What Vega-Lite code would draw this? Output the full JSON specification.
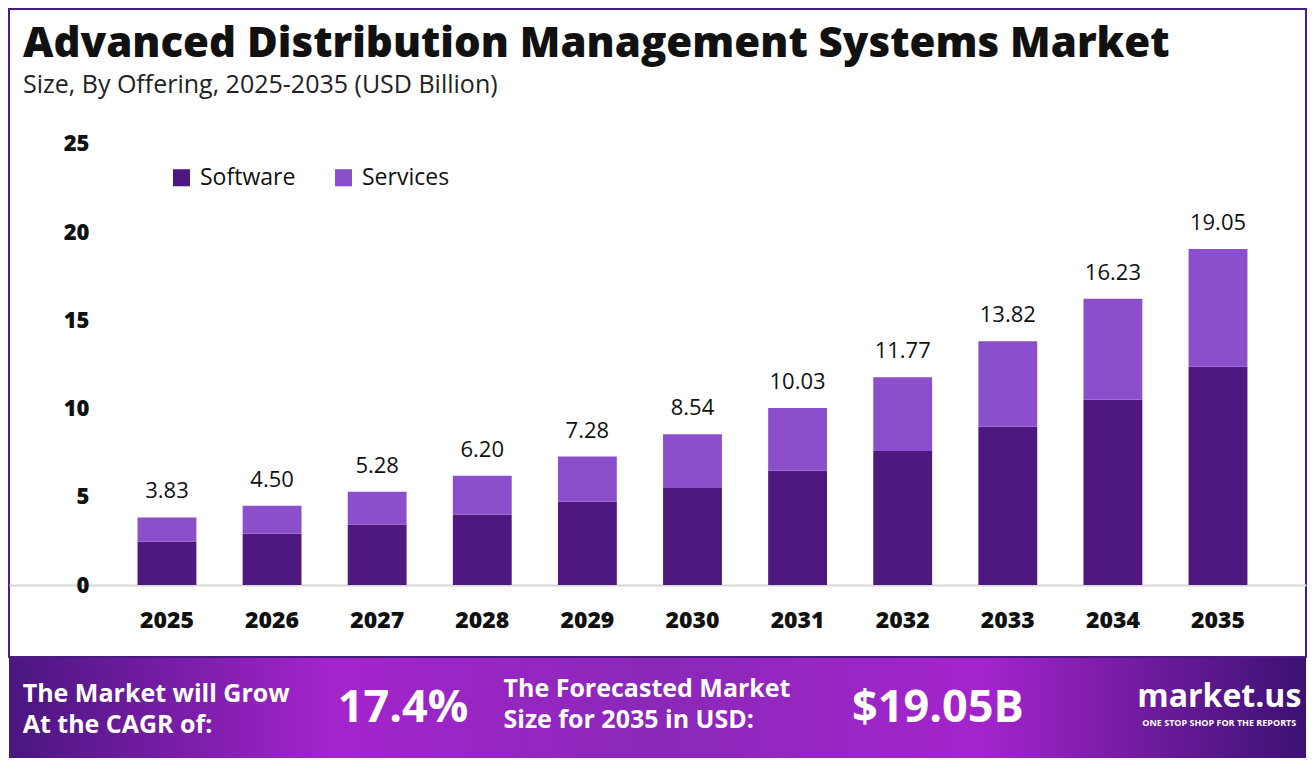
{
  "$schema": "https://vega.github.io/schema/vega-lite/v6.json",
  "background": "white",
  "padding": {"left": 8, "top": 8, "right": 7, "bottom": 12},
  "autosize": {"type": "pad"},
  "spacing": 0,
  "config": {
    "view": {"stroke": "#4B1C82", "strokeWidth": 2},
    "lineBreak": "\n"
  },
  "datasets": {
    "market": [
      {"year": "2025", "offering": "Software", "value": 2.45},
      {"year": "2025", "offering": "Services", "value": 1.38},
      {"year": "2026", "offering": "Software", "value": 2.90},
      {"year": "2026", "offering": "Services", "value": 1.60},
      {"year": "2027", "offering": "Software", "value": 3.41},
      {"year": "2027", "offering": "Services", "value": 1.87},
      {"year": "2028", "offering": "Software", "value": 3.99},
      {"year": "2028", "offering": "Services", "value": 2.21},
      {"year": "2029", "offering": "Software", "value": 4.72},
      {"year": "2029", "offering": "Services", "value": 2.56},
      {"year": "2030", "offering": "Software", "value": 5.50},
      {"year": "2030", "offering": "Services", "value": 3.04},
      {"year": "2031", "offering": "Software", "value": 6.47},
      {"year": "2031", "offering": "Services", "value": 3.56},
      {"year": "2032", "offering": "Software", "value": 7.60},
      {"year": "2032", "offering": "Services", "value": 4.17},
      {"year": "2033", "offering": "Software", "value": 8.97},
      {"year": "2033", "offering": "Services", "value": 4.85},
      {"year": "2034", "offering": "Software", "value": 10.50},
      {"year": "2034", "offering": "Services", "value": 5.73},
      {"year": "2035", "offering": "Software", "value": 12.37},
      {"year": "2035", "offering": "Services", "value": 6.68}
    ],
    "footer": [
      {"item": "a", "text": "The Market will Grow\nAt the CAGR of:"},
      {"item": "b", "text": "17.4%"},
      {"item": "c", "text": "The Forecasted Market\nSize for 2035 in USD:"},
      {"item": "d", "text": "$19.05B"},
      {"item": "e", "text": "market.us", "tag": "ONE STOP SHOP FOR THE REPORTS"}
    ]
  },
  "vconcat": [
    {
      "width": 1297,
      "height": 648,
      "data": {"name": "market"},
      "title": {
        "text": "Advanced Distribution Management Systems Market",
        "subtitle": "Size, By Offering, 2025-2035 (USD Billion)",
        "anchor": "start",
        "orient": "top",
        "offset": -90,
        "dx": 14,
        "font": "Open Sans",
        "fontSize": 42,
        "fontWeight": 800,
        "color": "#111111",
        "subtitleFont": "Open Sans",
        "subtitleFontSize": 25,
        "subtitleColor": "#222222",
        "subtitlePadding": 7
      },
      "encoding": {
        "x": {
          "field": "year",
          "type": "ordinal",
          "title": null,
          "scale": {"paddingInner": 0.44, "paddingOuter": 0.89, "align": 0.687},
          "axis": {
            "orient": "bottom",
            "offset": -72,
            "ticks": false,
            "labelAngle": 0,
            "labelPadding": 24,
            "labelFont": "Open Sans",
            "labelFontSize": 23,
            "labelFontWeight": 800,
            "labelColor": "#111111",
            "domainColor": "#d6d6d6",
            "domainWidth": 2
          }
        }
      },
      "layer": [
        {
          "mark": {"type": "bar"},
          "encoding": {
            "y": {
              "field": "value",
              "type": "quantitative",
              "aggregate": "sum",
              "stack": "zero",
              "title": null,
              "scale": {"domain": [-4.08, 32.65], "nice": false, "zero": false},
              "axis": {
                "values": [0, 5, 10, 15, 20, 25],
                "offset": -80,
                "grid": false,
                "ticks": false,
                "domain": false,
                "labelPadding": 0,
                "labelFont": "Open Sans",
                "labelFontSize": 22,
                "labelFontWeight": 800,
                "labelColor": "#111111"
              }
            },
            "color": {
              "field": "offering",
              "type": "nominal",
              "sort": ["Software", "Services"],
              "scale": {"domain": ["Software", "Services"], "range": ["#4F1780", "#8B4FCB"]},
              "legend": {
                "title": null,
                "orient": "none",
                "direction": "horizontal",
                "legendX": 161,
                "legendY": 157,
                "symbolType": "square",
                "symbolSize": 290,
                "symbolStrokeWidth": 0,
                "symbolOpacity": 1,
                "labelFont": "Open Sans",
                "labelFontSize": 23,
                "labelColor": "#111111",
                "columnPadding": 36,
                "labelOffset": 7
              }
            },
            "order": {"field": "offering", "sort": "descending"}
          }
        },
        {
          "mark": {"type": "text", "baseline": "bottom", "dy": -14, "font": "Open Sans", "fontSize": 22, "color": "#111111"},
          "encoding": {
            "y": {"field": "value", "type": "quantitative", "aggregate": "sum"},
            "text": {"field": "value", "type": "quantitative", "aggregate": "sum", "format": ".2f"}
          }
        }
      ]
    },
    {
      "width": 1297,
      "height": 100,
      "view": {"stroke": null},
      "data": {"name": "footer"},
      "encoding": {
        "x": {"field": "item", "type": "nominal", "axis": null, "scale": {"domain": ["a", "b", "c", "d", "e"], "paddingInner": 0, "paddingOuter": 0}}
      },
      "layer": [
        {
          "mark": {
            "type": "rect",
            "color": {
              "gradient": "linear",
              "x1": 0, "y1": 0, "x2": 1, "y2": 0,
              "stops": [
                {"offset": 0, "color": "#4A1680"},
                {"offset": 0.25, "color": "#A424CC"},
                {"offset": 0.5, "color": "#8A28B8"},
                {"offset": 0.75, "color": "#A424CC"},
                {"offset": 1, "color": "#3C1272"}
              ]
            }
          },
          "encoding": {"x": {"value": 0}, "x2": {"value": 1297}}
        },
        {
          "transform": [{"filter": "datum.item == 'a'"}],
          "mark": {"type": "text", "align": "left", "baseline": "middle", "dx": -116, "dy": -14, "font": "Open Sans", "fontSize": 25, "fontWeight": "bold", "color": "white", "lineHeight": 31},
          "encoding": {"text": {"field": "text"}}
        },
        {
          "transform": [{"filter": "datum.item == 'c'"}],
          "mark": {"type": "text", "align": "left", "baseline": "middle", "dx": -154, "dy": -19, "font": "Open Sans", "fontSize": 25, "fontWeight": "bold", "color": "white", "lineHeight": 31},
          "encoding": {"text": {"field": "text"}}
        },
        {
          "transform": [{"filter": "datum.item == 'b'"}],
          "mark": {"type": "text", "align": "center", "baseline": "middle", "dx": 5, "font": "Open Sans", "fontSize": 45, "fontWeight": "bold", "color": "white"},
          "encoding": {"text": {"field": "text"}}
        },
        {
          "transform": [{"filter": "datum.item == 'd'"}],
          "mark": {"type": "text", "align": "center", "baseline": "middle", "dx": 21, "font": "Open Sans", "fontSize": 45, "fontWeight": "bold", "color": "white"},
          "encoding": {"text": {"field": "text"}}
        },
        {
          "transform": [{"filter": "datum.item == 'e'"}],
          "mark": {"type": "text", "align": "center", "baseline": "middle", "dx": 43, "dy": -11, "font": "Open Sans", "fontSize": 32, "fontWeight": "bold", "color": "white"},
          "encoding": {"text": {"field": "text"}}
        },
        {
          "transform": [{"filter": "datum.item == 'e'"}],
          "mark": {"type": "text", "align": "center", "baseline": "middle", "dx": 43, "dy": 15, "font": "Open Sans", "fontSize": 9, "fontWeight": "bold", "color": "white"},
          "encoding": {"text": {"field": "tag"}}
        }
      ]
    }
  ]
}
